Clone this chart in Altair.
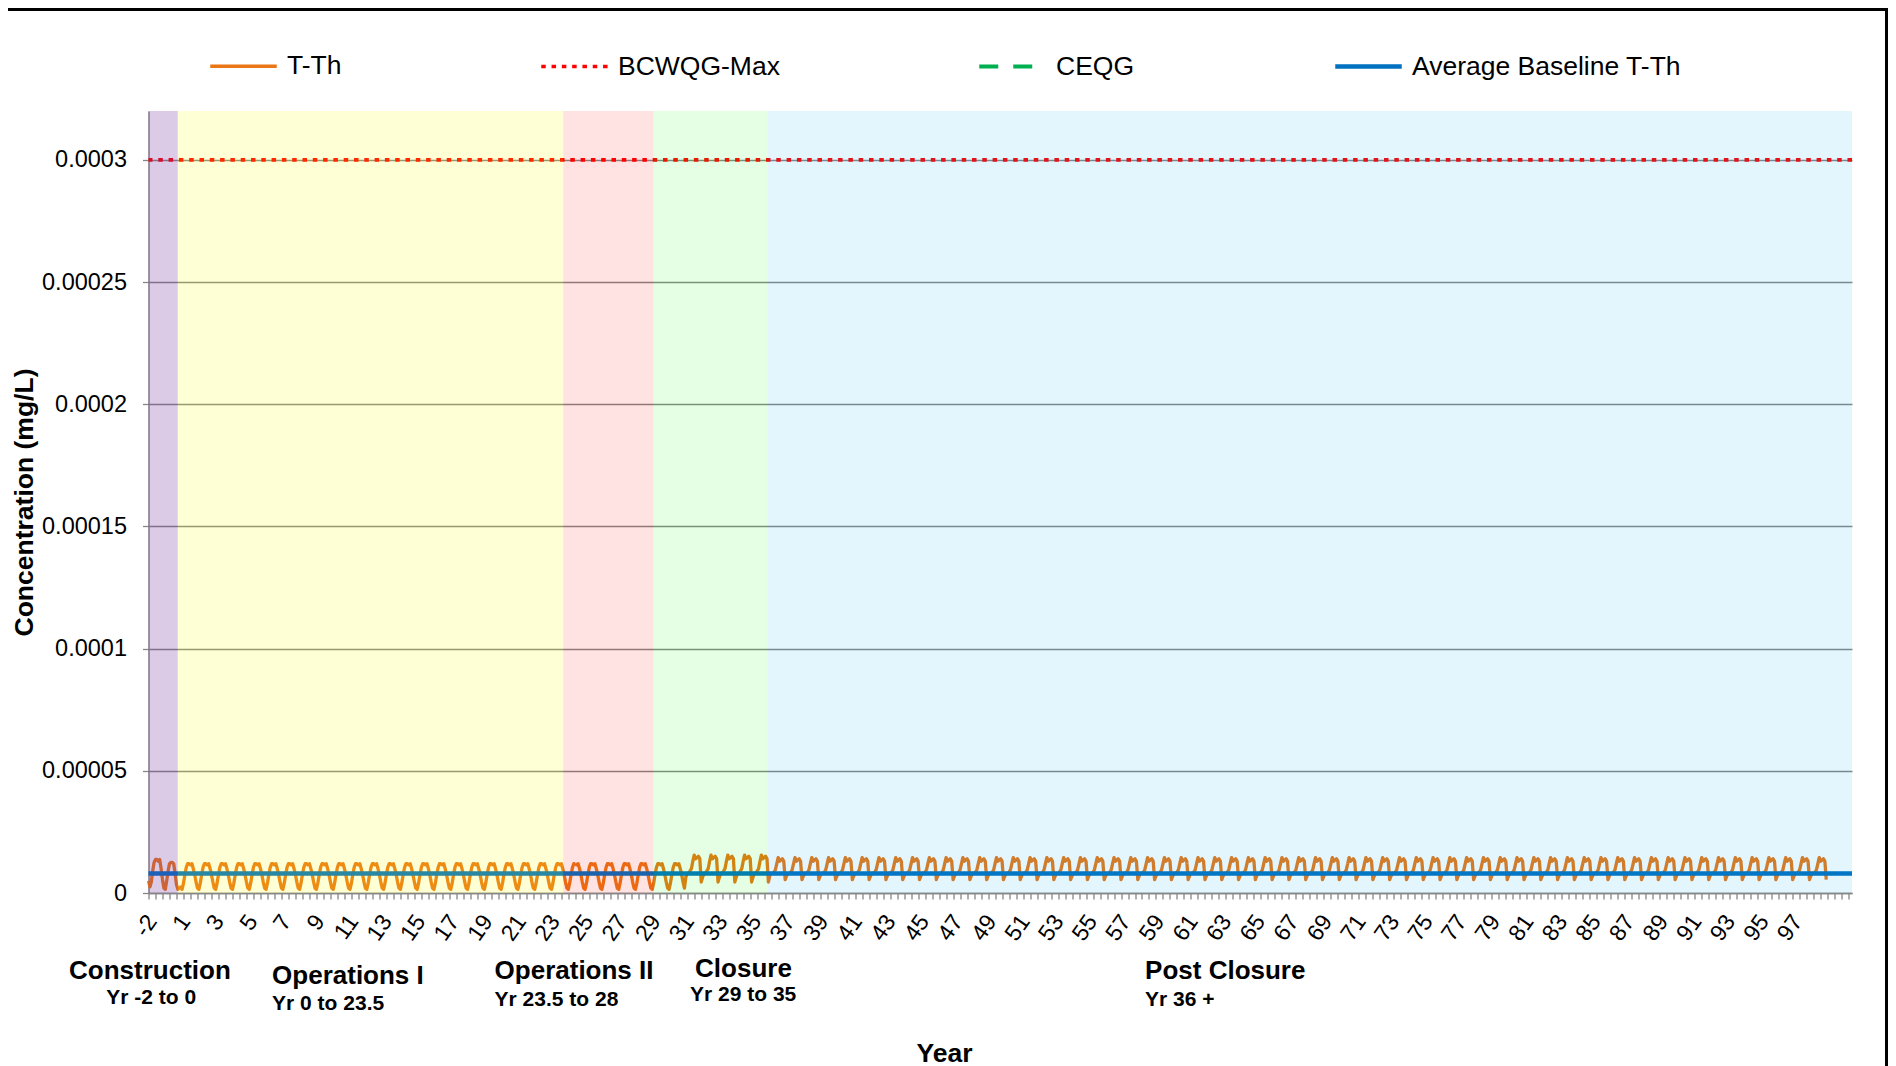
import altair as alt
import numpy as np
import pandas as pd

# ---------------- data ----------------
SERIES = ["T-Th", "BCWQG-Max", "CEQG", "Average Baseline T-Th"]
SERIES_COLORS = ["#EA7616", "#FF0000", "#00B050", "#0070C0"]

PHASES = ["Construction", "Operations I", "Operations II", "Closure", "Post Closure"]
PHASE_START = [-2.0, -0.26, 22.70, 28.08, 34.87]
PHASE_END = [-0.26, 22.70, 28.08, 34.87, 99.45]
PHASE_COLORS = ["#7030A0", "#FFFF00", "#FF0000", "#00FF00", "#00B0F0"]
PHASE_OPACITY = [0.25, 0.16, 0.11, 0.10, 0.11]

# monthly T-Th concentration profiles (units of 1e-5 mg/L)
TTH_CONSTR_A = [0.50, 0.25, 0.45, 0.90, 1.25, 1.37, 1.37, 1.30, 1.37, 1.00, 0.55, 0.20]
TTH_CONSTR_B = [0.15, 0.50, 0.90, 1.20, 1.25, 1.25, 1.20, 0.80, 0.35, 0.15, 0.20, 0.25]
TTH_OPS = [0.15, 0.40, 0.75, 1.05, 1.20, 1.20, 1.15, 1.20, 1.00, 0.75, 0.45, 0.20]
TTH_CLOSURE = [0.65, 0.80, 0.80, 0.90, 1.00, 1.30, 1.55, 1.40, 1.45, 1.50, 1.40, 0.45]
TTH_POST = [0.70, 0.80, 0.80, 0.85, 0.95, 1.20, 1.45, 1.30, 1.35, 1.40, 1.30, 0.55]

YEARS_CONSTR_A = [-2]
YEARS_CONSTR_B = [-1]
YEARS_OPS = list(range(0, 30))
YEARS_CLOSURE = list(range(30, 35))
YEARS_POST = list(range(35, 98))

BASELINE = 0.000008
BCWQG_MAX = 0.0003

Y_TICKS = [0, 0.00005, 0.0001, 0.00015, 0.0002, 0.00025, 0.0003]
X_LABEL_POS = list(range(-2, 97, 2))

ANN_TEXT = ["Construction", "Operations I", "Operations II", "Closure", "Post Closure"]
ANN_T = [-6.73, 5.36, 18.61, 30.55, 57.35]
ANN_PY = [860, 865, 860, 857.5, 860]
SUB_TEXT = ["Yr -2 to 0", "Yr 0 to 23.5", "Yr 23.5 to 28", "Yr 29 to 35", "Yr 36 +"]
SUB_T = [-4.51, 5.36, 18.61, 30.25, 57.35]
SUB_PY = [886.5, 892.5, 889, 884, 889]

# ---------------- tables ----------------
rows_t, rows_v = [], []
for years, prof in [(YEARS_CONSTR_A, TTH_CONSTR_A), (YEARS_CONSTR_B, TTH_CONSTR_B),
                    (YEARS_OPS, TTH_OPS), (YEARS_CLOSURE, TTH_CLOSURE), (YEARS_POST, TTH_POST)]:
    for y in years:
        for m, v in enumerate(prof):
            rows_t.append(y + m / 12.0)
            rows_v.append(v * 1e-5)
tth_df = pd.DataFrame({"t": rows_t, "value": rows_v, "series": "T-Th"})
base_df = pd.DataFrame({"value": [BASELINE], "series": ["Average Baseline T-Th"]})
bc_df = pd.DataFrame({"value": [BCWQG_MAX], "series": ["BCWQG-Max"]})
ann_df = pd.DataFrame({"text": ANN_TEXT, "t": ANN_T, "py": ANN_PY})
sub_df = pd.DataFrame({"text": SUB_TEXT, "t": SUB_T, "py": SUB_PY})

# ---------------- layout ----------------
W, H = 1703.5, 782
PAD = {"left": 140.5, "top": 103, "right": 36, "bottom": 173}
FONT = "Liberation Sans"
GRAY = "#868686"

xscale = alt.Scale(domain=[-2, 99.45], nice=False, zero=False)
yscale = alt.Scale(domain=[0, 0.00032], nice=False, zero=True)
TICKS = list(np.round(-2 + np.arange(0, 244) * 5 / 12.0, 4))

color_scale = alt.Scale(domain=SERIES, range=SERIES_COLORS)
dash_scale = alt.Scale(domain=SERIES, range=[[1, 0], [4.5, 5.8], [19, 15], [1, 0]])
width_scale = alt.Scale(domain=SERIES, range=[3.3, 4.5, 5, 4.3])

LEG = alt.Legend(title=None, orient="none", legendX=59.5, legendY=-80, direction="horizontal",
                 columns=4, symbolType="stroke", symbolSize=4422, labelFontSize=26.5,
                 labelFont=FONT, labelColor="black", columnPadding=191, labelOffset=8,
                 padding=0, labelLimit=500)

y_axis = alt.Axis(values=Y_TICKS, format=".5~f", grid=True, gridColor=GRAY, gridWidth=1.3,
                  domainColor=GRAY, domainWidth=1.5, tickColor=GRAY, tickSize=6, tickWidth=1.3,
                  labelFontSize=23.5, labelFont=FONT, labelColor="black", labelPadding=16,
                  title="Concentration (mg/L)", titleFontSize=26.5, titleFont=FONT,
                  titleFontWeight="bold", titleColor="black", titleX=-124, titleY=H / 2,
                  titleBaseline="middle", titleAlign="center", titleAngle=270)

label_axis = alt.Axis(orient="bottom", values=X_LABEL_POS,
                      labelExpr="datum.value < 0 ? datum.value : datum.value + 1",
                      ticks=False, tickSize=0, domain=False, grid=False, labelAngle=-55,
                      labelAlign="right", labelBaseline="middle", labelPadding=24,
                      labelOffset=3,
                      labelFontSize=23, labelFont=FONT, labelColor="black", labelOverlap=False,
                      title="Year", titleFontSize=26.5, titleFont=FONT, titleFontWeight="bold",
                      titleColor="black", titleX=795.5, titleY=160, titleBaseline="middle",
                      titleAlign="center")

tick_axis = alt.Axis(orient="bottom", values=TICKS, labels=False, ticks=True, tickSize=6,
                     tickColor=GRAY, tickWidth=1.3, domain=True, domainColor=GRAY,
                     domainWidth=1.5, grid=False, title=None)

enc_series = dict(
    color=alt.Color("series:N", scale=color_scale, legend=LEG),
    strokeDash=alt.StrokeDash("series:N", scale=dash_scale, legend=LEG),
    strokeWidth=alt.StrokeWidth("series:N", scale=width_scale, legend=LEG),
)

tth = alt.Chart(tth_df).mark_line(strokeJoin="round").encode(
    x=alt.X("t:Q", scale=xscale, axis=label_axis),
    y=alt.Y("value:Q", scale=yscale, axis=y_axis),
    **enc_series,
)
base = alt.Chart(base_df).mark_rule().encode(
    y=alt.Y("value:Q", scale=yscale), **enc_series)
bc = alt.Chart(bc_df).mark_rule().encode(
    y=alt.Y("value:Q", scale=yscale), **enc_series)

# translucent phase shading drawn over the series (as in the original)
rect_layers = []
for i, (ph, s, e, col, op) in enumerate(zip(PHASES, PHASE_START, PHASE_END, PHASE_COLORS, PHASE_OPACITY)):
    dfp = pd.DataFrame({"phase": [ph], "start": [s], "end": [e]})
    rect_layers.append(
        alt.Chart(dfp).mark_rect(color=col, opacity=op).encode(
            x=alt.X("start:Q", scale=xscale, axis=tick_axis if i == 0 else None),
            x2="end:Q",
            y=alt.datum(0.00032),
            y2=alt.datum(0),
        )
    )

ann = alt.Chart(ann_df).mark_text(font=FONT, fontSize=26, fontWeight="bold", align="left",
                                  baseline="middle", color="black").encode(
    x=alt.X("t:Q", scale=xscale, axis=None),
    y=alt.Y("py:Q", scale=None),
    text="text:N",
)
sub = alt.Chart(sub_df).mark_text(font=FONT, fontSize=21, fontWeight="bold", align="left",
                                  baseline="middle", color="black").encode(
    x=alt.X("t:Q", scale=xscale, axis=None),
    y=alt.Y("py:Q", scale=None),
    text="text:N",
)

frame_df = pd.DataFrame({"k": [0]})
frame_top = alt.Chart(frame_df).mark_rule(color="black", strokeWidth=3).encode(
    x=alt.value(-140.5), x2=alt.value(W + PAD["right"]), y=alt.value(-101.5))
frame_right = alt.Chart(frame_df).mark_rule(color="black", strokeWidth=3).encode(
    x=alt.value(W + PAD["right"] - 1.5), y=alt.value(-103), y2=alt.value(H + PAD["bottom"]))

chart = alt.layer(tth, base, bc, *rect_layers, ann, sub, frame_top, frame_right).resolve_axis(
    x="independent"
).properties(
    width=W, height=H, padding=PAD, autosize=alt.AutoSizeParams(type="none"),
    background="white",
).configure_view(stroke=None)

chart.save("out.html", embed_options={"renderer": "svg", "actions": False})
